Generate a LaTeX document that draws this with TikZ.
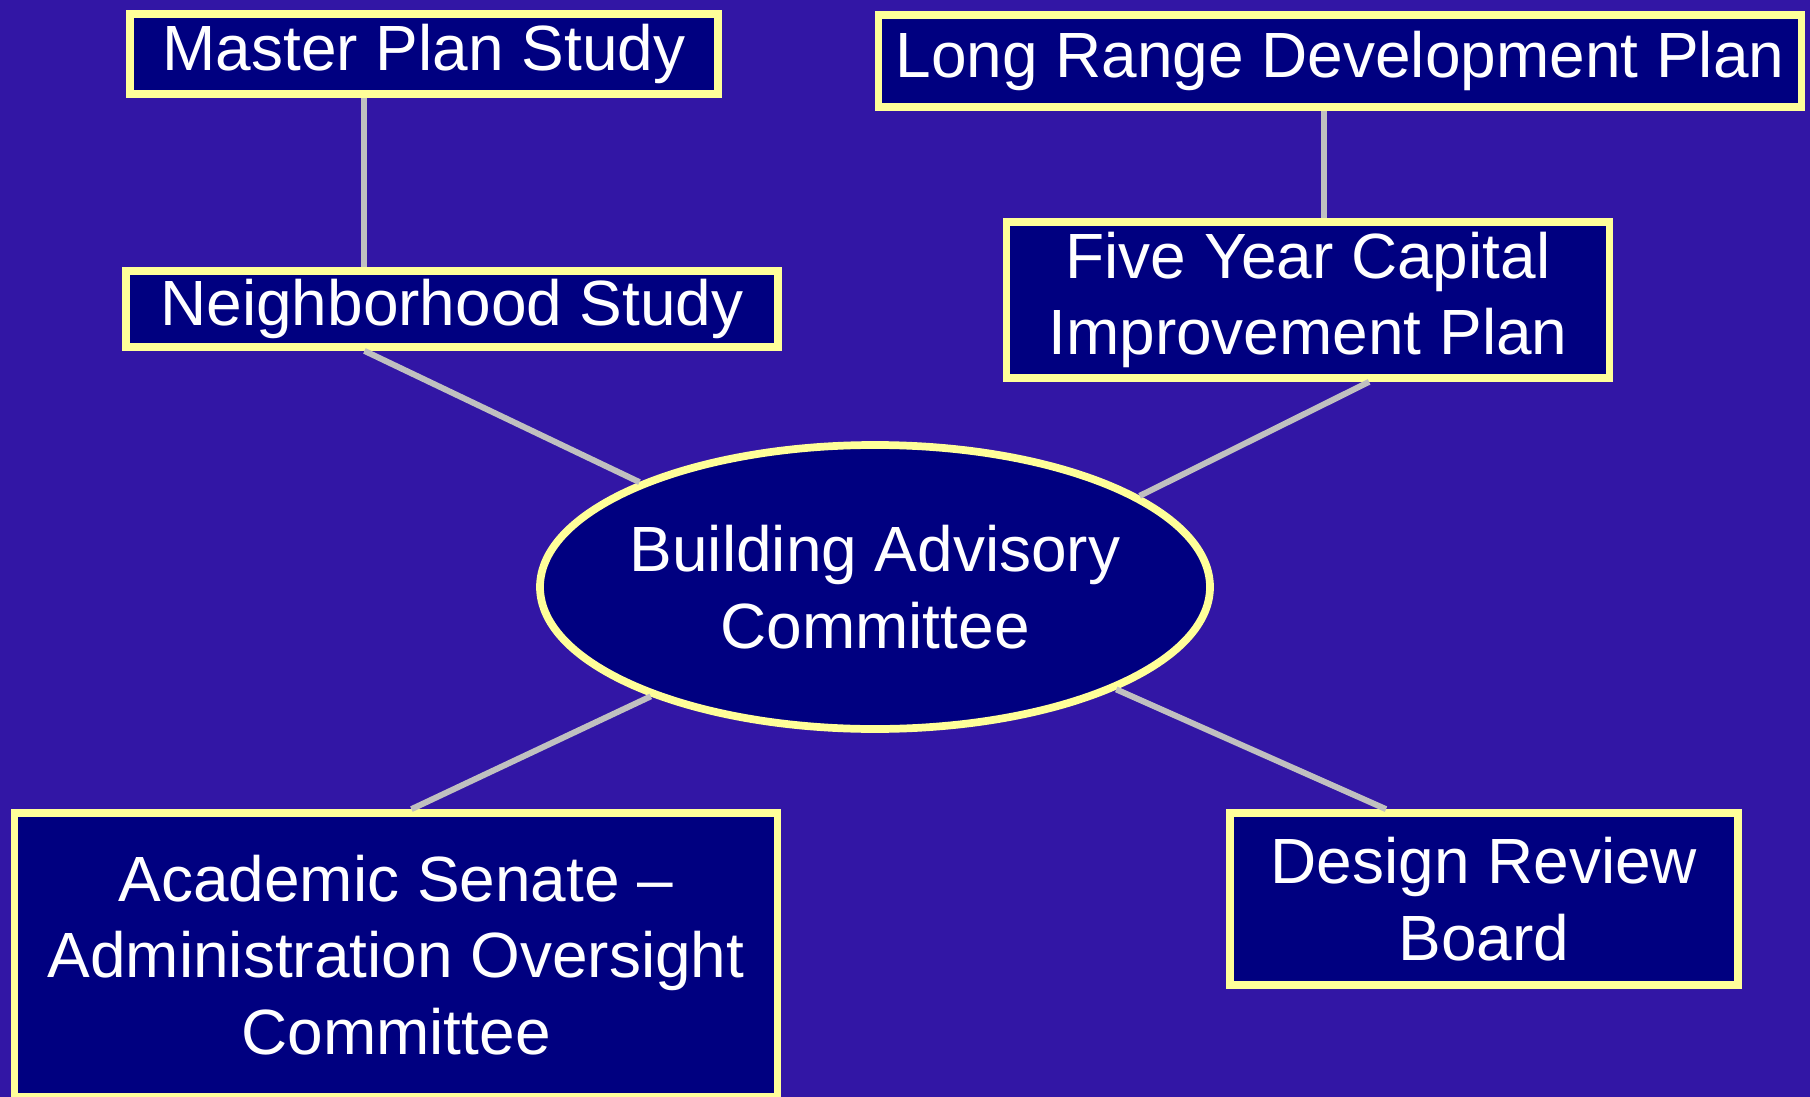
\documentclass[tikz,border=0pt]{standalone}
\usepackage{fontspec}
\setmainfont{Liberation Sans}
\usepackage{tikz}
\usetikzlibrary{shapes,calc}
\definecolor{slidebg}{RGB}{50,22,165}
\definecolor{boxnavy}{RGB}{0,0,128}
\definecolor{boxrim}{RGB}{255,255,153}
\definecolor{linkgray}{RGB}{192,192,192}
\tikzset{
  planbox/.style={draw=boxrim, fill=boxnavy, line width=2.2pt, text=white,
    inner sep=0pt, align=center, font=\fontsize{18.2}{21.8}\selectfont},
  link/.style={draw=linkgray, line width=1.7pt}
}

\begin{document}
\begin{tikzpicture}
        \useasboundingbox (0,0) rectangle (18.1,-10.97);
        \fill[slidebg] (0,0) rectangle (18.1,-10.97);
        \node[planbox, minimum width=5.88cm, minimum height=0.80cm] (mps) at (4.24,-0.54) {Master Plan Study};
        \node[planbox, minimum width=9.23cm, minimum height=0.92cm] (lrdp) at (13.40,-0.61) {Long Range Development Plan};
        \node[planbox, minimum width=6.52cm, minimum height=0.76cm] (nbh) at (4.52,-3.09) {Neighborhood Study};
        \node[planbox, minimum width=6.03cm, minimum height=1.56cm] (fyc) at (13.08,-3.00) {Five Year Capital\\Improvement Plan};
        \node[planbox, ellipse, inner xsep=-0.2cm, minimum width=6.70cm, minimum height=2.84cm] (bac) at (8.75,-5.87) {Building Advisory\\Committee};
        \node[planbox, minimum width=7.63cm, minimum height=2.84cm] (asc) at (3.96,-9.55) {Academic Senate --\\Administration Oversight\\Committee};
        \node[planbox, minimum width=5.08cm, minimum height=1.72cm] (drb) at (14.84,-8.99) {Design Review\\Board};
        \coordinate (mpsfoot) at ($(mps.south west)!0.40!(mps.south east)$);
        \coordinate (lrdpfoot) at ($(lrdp.south west)!0.483!(lrdp.south east)$);
        \coordinate (fycfoot) at ($(fyc.south west)!0.60!(fyc.south east)$);
        \coordinate (asctop) at ($(asc.north west)!0.52!(asc.north east)$);
        \coordinate (drbtop) at ($(drb.north west)!0.31!(drb.north east)$);
        \draw[link] (mpsfoot) -- (mpsfoot |- nbh.north);
        \draw[link] (lrdpfoot) -- (lrdpfoot |- fyc.north);
        \draw[link] (mpsfoot |- nbh.south) -- (bac.156);
        \draw[link] (fycfoot) -- (bac.19);
        \draw[link] (bac.206) -- (asctop);
        \draw[link] (bac.337) -- (drbtop);
    \end{tikzpicture}
\end{document}
